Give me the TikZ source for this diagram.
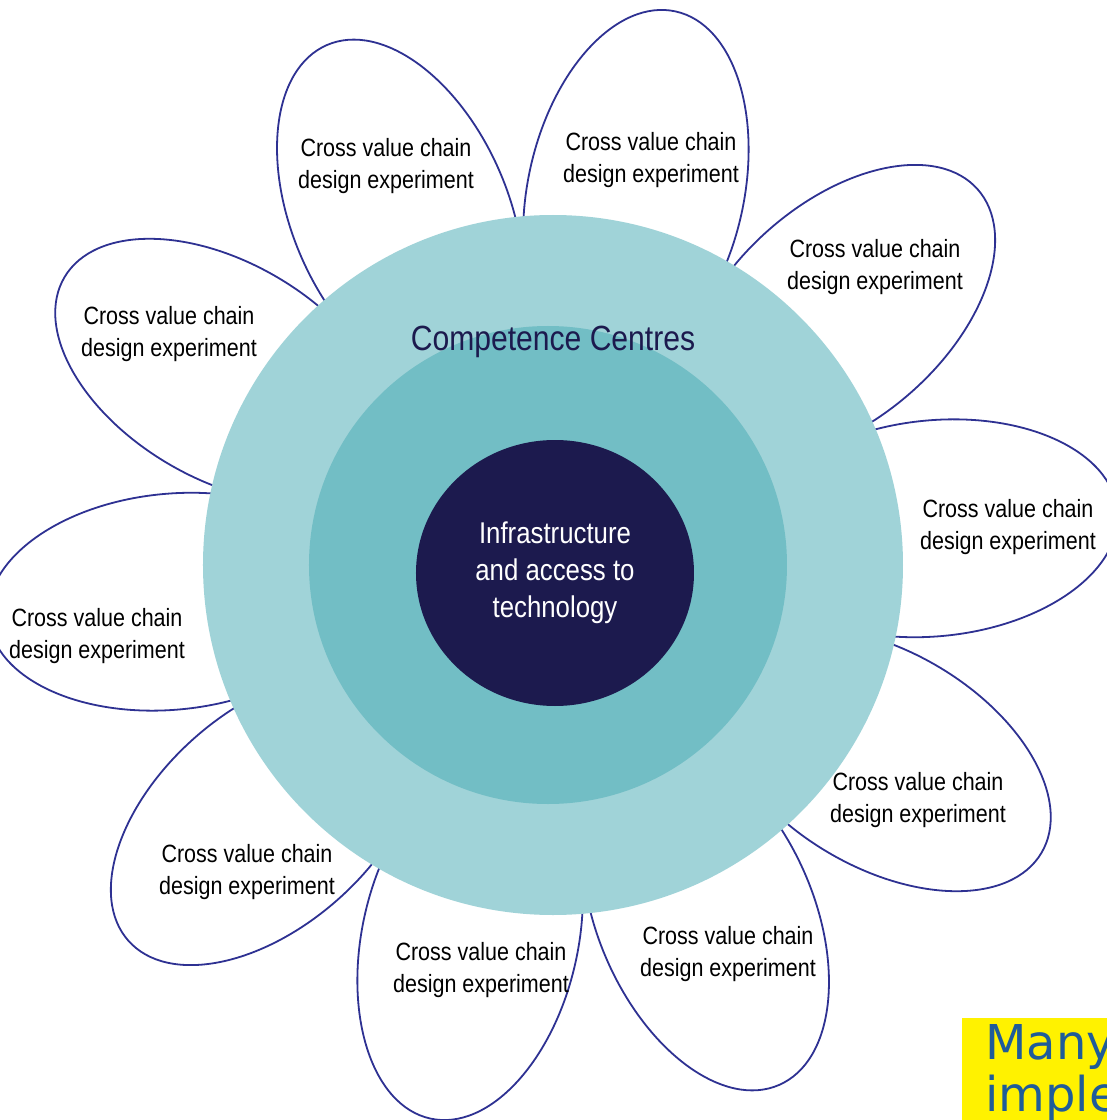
\documentclass[tikz,border=0pt]{standalone}
\usepackage{fontspec}
\setmainfont{Liberation Sans}[FakeStretch=0.86]
\newfontfamily\notefont{DejaVu Sans}
\usetikzlibrary{shapes.geometric}

\definecolor{ringlight}{HTML}{A0D3D8}
\definecolor{ringmid}{HTML}{72BEC5}
\definecolor{corenavy}{HTML}{1C1A4E}
\definecolor{petalline}{HTML}{2E3192}
\definecolor{noteblue}{HTML}{1F5C99}

\tikzset{
    petal/.style={draw=petalline, line width=1.8pt},
    petaltext/.style={align=center, inner sep=0pt, font=\fontsize{25}{32}\selectfont},
    ring/.style={circle, inner sep=0pt},
    notetext/.style={anchor=base west, inner sep=0pt, text=noteblue, font=\notefont\fontsize{48}{53}\selectfont}
}

\begin{document}
\begin{tikzpicture}[x=1pt, y=1pt]
                \useasboundingbox (-553,-555) rectangle (554,565);
                \clip (-553,-555) rectangle (554,565);
                \fill[white] (-553,-555) rectangle (554,565);

                \foreach \i [evaluate=\i as \a using 113.5-36*\i] in {0,...,9}
                    \draw[petal, shift={(\a:383)}, rotate=\a] (0,0) ellipse [x radius=184, y radius=108];

                \node[ring, fill=ringlight, minimum size=700] (outer) at (0,0) {};
                \node[ring, fill=ringmid, minimum size=478] (middle) at (-5,0) {};
                \node[ellipse, fill=corenavy, minimum width=278, minimum height=266, inner sep=0pt,
                      text=white, align=center, font=\fontsize{30}{37}\selectfont] (core) at (2,-8)
                      {Infrastructure\\and access to\\technology};
                \node[text=corenavy, font=\fontsize{35}{40}\selectfont] (centres) at (0,223) {Competence Centres};

                \foreach \n/\x/\y in {1/-167/399, 2/98/405, 3/322/298, 4/455/38, 5/365/-235,
                                      6/175/-389, 7/-72/-405, 8/-306/-307, 9/-456/-71, 10/-384/231}
                    \node[petaltext] (exp\n) at (\x,\y) {Cross value chain\\design experiment};

                \node[fill=yellow, anchor=north west, minimum width=200, minimum height=160] (note) at (409,-453) {};
                \node[notetext] (note1) at (432,-494) {Many};
                \node[notetext] (note2) at (432,-546) {imple};
\end{tikzpicture}
\end{document}
